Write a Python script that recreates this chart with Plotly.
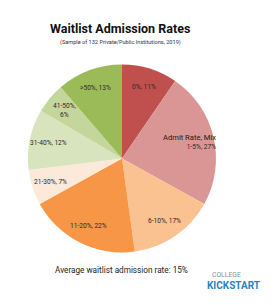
import math
import plotly.graph_objects as go

categories = ["0%", "1-5%", "6-10%", "11-20%", "21-30%", "31-40%", "41-50%", ">50%"]
shares = [11, 27, 17, 22, 7, 12, 6, 13]
colors = ["#c0504d", "#d99694", "#fac191", "#f79646", "#fde9d9", "#d7e4bd", "#c3d69b", "#9bbb59"]
title_text = "Waitlist Admission Rates"
subtitle_text = "(Sample of 132 Private/Public Institutions, 2019)"
footer_text = "Average waitlist admission rate: 15%"

W, H = 280, 305
cx, cy, R = 122, 158.5, 94  # pie center / radius in px

fig = go.Figure(go.Pie(
    labels=categories,
    values=shares,
    sort=False,
    direction="clockwise",
    rotation=0,
    marker=dict(colors=colors, line=dict(width=0)),
    textinfo="none",
    hoverinfo="label+value",
    domain=dict(x=[(cx - R) / W, (cx + R) / W], y=[1 - (cy + R) / H, 1 - (cy - R) / H]),
    showlegend=False,
))

total = sum(shares)
cum = 0
annotations = []
label_font = dict(family="Roboto, Open Sans, sans-serif", size=6.6, color="#2a2a2a")
for cat, v in zip(categories, shares):
    mid = (cum + v / 2) / total * 2 * math.pi
    cum += v
    frac = 0.80
    if cat == "1-5%":
        frac = 0.74
    px = cx + R * frac * math.sin(mid)
    py = cy - R * frac * math.cos(mid)
    if cat == "1-5%":
        text = "<span style='font-size:7.6px;color:#1a1a1a'>Admit Rate, Mix</span><br>   " + f"{cat}, {v}%"
        align = "right"
    elif cat == "41-50%":
        text = f"{cat},<br>{v}%"
        align = "center"
    else:
        text = f"{cat}, {v}%"
        align = "center"
    annotations.append(dict(x=px / W, y=1 - py / H, xref="paper", yref="paper", text=text,
                            showarrow=False, font=label_font, align=align,
                            xanchor="center", yanchor="middle"))

annotations += [
    dict(x=120 / W, y=1 - 28.5 / H, xref="paper", yref="paper", text="<b>" + title_text + "</b>",
         showarrow=False, font=dict(family="Roboto, sans-serif", size=12.5, color="#111111", weight=900),
         xanchor="center", yanchor="middle"),
    dict(x=120 / W, y=1 - 42 / H, xref="paper", yref="paper", text=subtitle_text,
         showarrow=False, font=dict(family="Roboto, sans-serif", size=5.6, color="#333333"),
         xanchor="center", yanchor="middle"),
    dict(x=121 / W, y=1 - 270 / H, xref="paper", yref="paper", text=footer_text,
         showarrow=False, font=dict(family="Roboto, sans-serif", size=8.2, color="#222222"),
         xanchor="center", yanchor="middle"),
    dict(x=226 / W, y=1 - 275 / H, xref="paper", yref="paper", text="COLLEGE",
         showarrow=False, font=dict(family="Roboto, sans-serif", size=6.8, color="#8a8f96"),
         xanchor="center", yanchor="middle"),
    dict(x=233.5 / W, y=1 - 285.5 / H, xref="paper", yref="paper", text="<b>KICKSTART</b>",
         showarrow=False, font=dict(family="Roboto, sans-serif", size=10, color="#2a82c4"),
         xanchor="center", yanchor="middle"),
]

fig.update_layout(
    width=W, height=H,
    margin=dict(l=0, r=0, t=0, b=0),
    paper_bgcolor="white", plot_bgcolor="white",
    annotations=annotations,
)

fig.write_html("out.html")
